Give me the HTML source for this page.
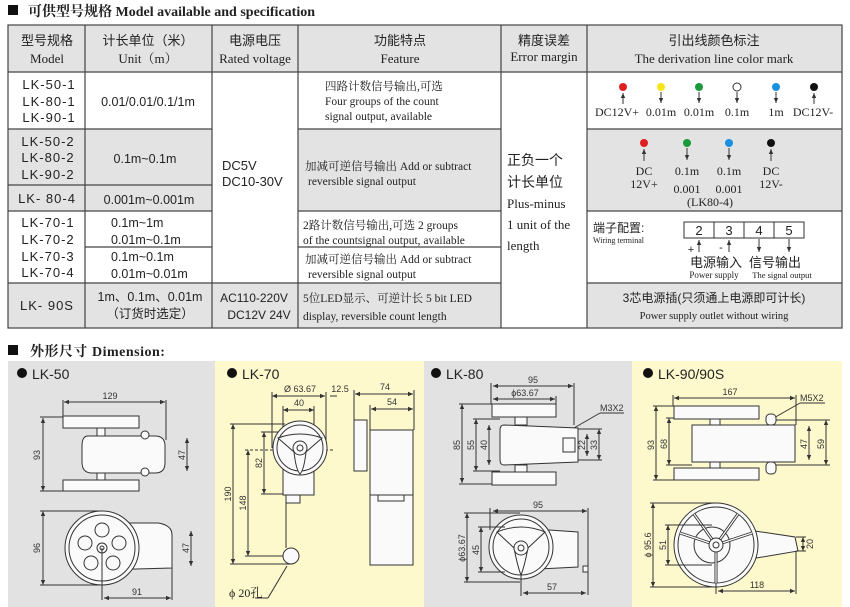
<!DOCTYPE html>
<html><head><meta charset="utf-8"><style>
html,body{margin:0;padding:0;background:#fff;width:850px;height:607px;overflow:hidden}
svg{display:block}
.s{font-family:"Liberation Serif","Noto Serif CJK SC","Noto Sans CJK SC",serif;fill:#222}
.a{font-family:"Liberation Sans","Noto Sans CJK SC",sans-serif;fill:#222}
.d{font-family:"Liberation Sans",sans-serif;fill:#333;font-size:9px}
.ln{stroke:#333;stroke-width:1;fill:none}
.sh{stroke:#333;stroke-width:1;fill:#fafafa}
</style></head><body>
<svg width="850" height="607" viewBox="0 0 850 607" xmlns="http://www.w3.org/2000/svg">
<defs>
<marker id="ar" markerWidth="6" markerHeight="6" refX="5" refY="3" orient="auto"><path d="M0,0.8 L5,3 L0,5.2z" fill="#333"/></marker>
<marker id="al" markerWidth="6" markerHeight="6" refX="1" refY="3" orient="auto"><path d="M6,0.8 L1,3 L6,5.2z" fill="#333"/></marker>
</defs>
<rect x="8" y="5" width="10" height="10" fill="#111"/>
<text x="28" y="16" class="s" font-size="14" font-weight="bold" fill="#111">可供型号规格 Model available  and  specification</text>

<rect x="8" y="25" width="834" height="47" fill="#e3e3e3"/>
<rect x="8" y="129" width="204" height="82" fill="#e3e3e3"/>
<rect x="298" y="129" width="203" height="82" fill="#e3e3e3"/>
<rect x="587" y="129" width="255" height="82" fill="#e3e3e3"/>
<rect x="8" y="283" width="493" height="45" fill="#e3e3e3"/>
<rect x="587" y="283" width="255" height="45" fill="#e3e3e3"/>
<g stroke="#444" stroke-width="1.2" fill="none">
<rect x="8" y="25" width="834" height="303"/>
<line x1="85" y1="25" x2="85" y2="328"/><line x1="212" y1="25" x2="212" y2="328"/>
<line x1="298" y1="25" x2="298" y2="328"/><line x1="501" y1="25" x2="501" y2="328"/>
<line x1="587" y1="25" x2="587" y2="328"/>
<line x1="8" y1="72" x2="842" y2="72"/>
<line x1="8" y1="129" x2="212" y2="129"/><line x1="298" y1="129" x2="501" y2="129"/><line x1="587" y1="129" x2="842" y2="129"/>
<line x1="8" y1="185" x2="212" y2="185"/>
<line x1="8" y1="211" x2="212" y2="211"/><line x1="298" y1="211" x2="501" y2="211"/><line x1="587" y1="211" x2="842" y2="211"/>
<line x1="85" y1="247" x2="212" y2="247"/><line x1="298" y1="247" x2="501" y2="247"/>
<line x1="8" y1="283" x2="501" y2="283"/><line x1="587" y1="283" x2="842" y2="283"/>
</g>
<g class="s" font-size="13" text-anchor="middle">
<text x="47" y="45" class="a">型号规格</text><text x="47" y="63">Model</text>
<text x="148" y="45" class="a">计长单位（米）</text><text x="148" y="63">Unit（m）</text>
<text x="255" y="45" class="a">电源电压</text><text x="255" y="63">Rated voltage</text>
<text x="400" y="45" class="a">功能特点</text><text x="400" y="63">Feature</text>
<text x="544" y="45" class="a">精度误差</text><text x="544" y="61">Error margin</text>
<text x="714" y="45" class="a">引出线颜色标注</text><text x="714" y="63">The derivation line color mark</text>
</g>
<g class="a" font-size="13" text-anchor="middle" letter-spacing="1">
<text x="49" y="89">LK-50-1</text><text x="49" y="106">LK-80-1</text><text x="49" y="122">LK-90-1</text>
<text x="48" y="146">LK-50-2</text><text x="48" y="162">LK-80-2</text><text x="48" y="179">LK-90-2</text>
<text x="47" y="203">LK- 80-4</text>
<text x="48" y="227">LK-70-1</text><text x="48" y="244">LK-70-2</text><text x="48" y="261">LK-70-3</text><text x="48" y="277">LK-70-4</text>
<text x="47" y="310">LK- 90S</text>
</g>
<g class="a" font-size="12.5">
<text x="148" y="106" text-anchor="middle">0.01/0.01/0.1/1m</text>
<text x="145" y="163" text-anchor="middle">0.1m~0.1m</text>
<text x="149" y="204" text-anchor="middle">0.001m~0.001m</text>
<text x="111" y="227">0.1m~1m</text><text x="111" y="244">0.01m~0.1m</text>
<text x="111" y="261">0.1m~0.1m</text><text x="111" y="278">0.01m~0.01m</text>
<text x="150" y="301" text-anchor="middle">1m、0.1m、0.01m</text>
<text x="150" y="318" text-anchor="middle">（订货时选定）</text>
<text x="222" y="170" font-size="13">DC5V</text><text x="222" y="186" font-size="13">DC10-30V</text>
<text x="254" y="302" text-anchor="middle" font-size="12">AC110-220V</text>
<text x="259" y="319" text-anchor="middle" font-size="12">DC12V  24V</text>
</g>
<g class="s" font-size="11.5">
<text x="325" y="90">四路计数信号输出,可选</text>
<text x="325" y="105">Four groups of the count</text>
<text x="325" y="120">signal output, available</text>
<text x="305" y="170">加减可逆信号输出 Add or subtract</text>
<text x="308" y="185">reversible signal output</text>
<text x="303" y="229">2路计数信号输出,可选 2 groups</text>
<text x="303" y="244">of the countsignal output, available</text>
<text x="305" y="263">加减可逆信号输出 Add or subtract</text>
<text x="308" y="278">reversible signal output</text>
<text x="303" y="302">5位LED显示、可逆计长 5 bit LED</text>
<text x="303" y="320">display,  reversible count length</text>
</g>
<g class="s" font-size="13">
<text x="507" y="165" class="a" font-size="14">正负一个</text>
<text x="507" y="187" class="a" font-size="14">计长单位</text>
<text x="507" y="208">Plus-minus</text>
<text x="507" y="229">1 unit of the</text>
<text x="507" y="250">length</text>
</g>
<g stroke="#333" stroke-width="1">
<line x1="623" y1="104" x2="623" y2="93" marker-end="url(#ar)"/>
<line x1="661" y1="92" x2="661" y2="103" marker-end="url(#ar)"/>
<line x1="699" y1="92" x2="699" y2="103" marker-end="url(#ar)"/>
<line x1="737" y1="92" x2="737" y2="103" marker-end="url(#ar)"/>
<line x1="776" y1="92" x2="776" y2="103" marker-end="url(#ar)"/>
<line x1="814" y1="104" x2="814" y2="93" marker-end="url(#ar)"/>
<line x1="644" y1="161" x2="644" y2="149" marker-end="url(#ar)"/>
<line x1="687" y1="148" x2="687" y2="160" marker-end="url(#ar)"/>
<line x1="729" y1="148" x2="729" y2="160" marker-end="url(#ar)"/>
<line x1="771" y1="161" x2="771" y2="149" marker-end="url(#ar)"/>
</g>
<circle cx="623" cy="87" r="4" fill="#e02020"/><circle cx="661" cy="87" r="4" fill="#f5e51a"/>
<circle cx="699" cy="87" r="4" fill="#1a9a3a"/><circle cx="737" cy="87" r="4" fill="#fff" stroke="#333"/>
<circle cx="776" cy="87" r="4" fill="#1a90e0"/><circle cx="814" cy="87" r="4" fill="#111"/>
<circle cx="644" cy="143" r="4" fill="#e02020"/><circle cx="687" cy="143" r="4" fill="#1a9a3a"/>
<circle cx="729" cy="143" r="4" fill="#1a90e0"/><circle cx="771" cy="143" r="4" fill="#111"/>
<g class="s" font-size="12" text-anchor="middle">
<text x="617" y="116">DC12V+</text><text x="661" y="116">0.01m</text><text x="699" y="116">0.01m</text>
<text x="737" y="116">0.1m</text><text x="776" y="116">1m</text><text x="813" y="116">DC12V-</text>
<text x="644" y="175">DC</text><text x="644" y="188">12V+</text>
<text x="687" y="175">0.1m</text><text x="687" y="193">0.001</text>
<text x="729" y="175">0.1m</text><text x="729" y="193">0.001</text>
<text x="771" y="175">DC</text><text x="771" y="188">12V-</text>
<text x="710" y="206">(LK80-4)</text>
</g>
<text x="593" y="232" class="a" font-size="12">端子配置:</text>
<text x="593" y="243" class="s" font-size="8">Wiring terminal</text>
<g stroke="#333" fill="none"><rect x="684" y="222" width="120" height="16"/>
<line x1="714" y1="222" x2="714" y2="238"/><line x1="744" y1="222" x2="744" y2="238"/><line x1="774" y1="222" x2="774" y2="238"/>
<line x1="699" y1="252" x2="699" y2="240" marker-end="url(#ar)"/>
<line x1="729" y1="252" x2="729" y2="240" marker-end="url(#ar)"/>
<line x1="759" y1="239" x2="759" y2="252" marker-end="url(#ar)"/>
<line x1="789" y1="239" x2="789" y2="252" marker-end="url(#ar)"/></g>
<g class="a" font-size="13" text-anchor="middle">
<text x="699" y="235">2</text><text x="729" y="235">3</text><text x="759" y="235">4</text><text x="789" y="235">5</text>
<text x="691" y="253" font-size="11">+</text><text x="721" y="251" font-size="11">-</text>
<text x="716" y="267">电源输入</text><text x="775" y="267">信号输出</text>
</g>
<text x="714" y="278" class="s" font-size="9" text-anchor="middle">Power supply</text>
<text x="782" y="278" class="s" font-size="8.5" text-anchor="middle">The signal output</text>
<text x="714" y="302" class="a" font-size="12" text-anchor="middle">3芯电源插(只须通上电源即可计长)</text>
<text x="714" y="319" class="s" font-size="10.5" text-anchor="middle">Power supply outlet  without wiring</text>

<rect x="8" y="345" width="10" height="10" fill="#111"/>
<text x="30" y="356" class="s" font-size="14" font-weight="bold" fill="#111" letter-spacing="0.5">外形尺寸 Dimension:</text>
<rect x="8" y="361" width="207" height="246" fill="#e2e2e2"/>
<rect x="215" y="361" width="209" height="246" fill="#fdf9cc"/>
<rect x="424" y="361" width="208" height="246" fill="#e2e2e2"/>
<rect x="632" y="361" width="210" height="246" fill="#fdf9cc"/>
<g class="a" font-size="14">
<circle cx="22" cy="373" r="5" fill="#111"/><text x="32" y="379">LK-50</text>
<circle cx="232" cy="373" r="5" fill="#111"/><text x="242" y="379">LK-70</text>
<circle cx="436" cy="373" r="5" fill="#111"/><text x="446" y="379">LK-80</text>
<circle cx="648" cy="373" r="5" fill="#111"/><text x="658" y="379">LK-90/90S</text>
</g>

<g class="ln">
<line x1="64" y1="402" x2="165" y2="402" marker-start="url(#al)" marker-end="url(#ar)"/>
<line x1="63" y1="400" x2="63" y2="416"/><line x1="166" y1="400" x2="166" y2="440"/>
<line x1="43" y1="418" x2="43" y2="491" marker-start="url(#al)" marker-end="url(#ar)"/>
<line x1="40" y1="417" x2="63" y2="417"/><line x1="40" y1="491" x2="63" y2="491"/>
<line x1="187" y1="438" x2="187" y2="471" marker-start="url(#al)" marker-end="url(#ar)"/>
</g>
<rect x="63" y="416" width="76" height="12" class="sh"/>
<rect x="63" y="480" width="76" height="11" class="sh"/>
<rect x="97" y="428" width="8" height="8" class="sh"/><rect x="97" y="472" width="8" height="8" class="sh"/>
<path d="M88,436 L155,436 Q165,436 165,446 L165,463 Q165,473 155,473 L92,473 Q82,473 82,462 L82,446 Q82,436 88,436z" class="sh"/>
<circle cx="145" cy="435" r="4" class="sh"/><circle cx="145" cy="472" r="4" class="sh"/>
<text class="d" x="110" y="399" text-anchor="middle">129</text>
<text class="d" transform="translate(40,455) rotate(-90)" text-anchor="middle">93</text>
<text class="d" transform="translate(185,455) rotate(-90)" text-anchor="middle">47</text>
<path d="M102,523 L158,523 Q172,525 172,535 L172,568 L102,570z" class="sh"/>
<circle cx="102" cy="548" r="37" class="sh"/><circle cx="102" cy="548" r="33" class="ln"/>
<g class="sh"><circle cx="102" cy="530" r="7"/><circle cx="119" cy="543" r="7"/><circle cx="113" cy="563" r="7"/><circle cx="91" cy="563" r="7"/><circle cx="85" cy="543" r="7"/></g>
<circle cx="102" cy="548" r="5" class="sh"/><circle cx="102" cy="548" r="2" class="ln"/>
<g class="ln">
<line x1="43" y1="511" x2="43" y2="585" marker-start="url(#al)" marker-end="url(#ar)"/>
<line x1="40" y1="511" x2="100" y2="511"/><line x1="40" y1="585" x2="100" y2="585"/>
<line x1="191" y1="531" x2="191" y2="566" marker-start="url(#al)" marker-end="url(#ar)"/>
<line x1="102" y1="548" x2="102" y2="600"/><line x1="172" y1="568" x2="172" y2="600"/>
<line x1="104" y1="598" x2="171" y2="598" marker-start="url(#al)" marker-end="url(#ar)"/>
</g>
<text class="d" transform="translate(40,548) rotate(-90)" text-anchor="middle">96</text>
<text class="d" transform="translate(189,548) rotate(-90)" text-anchor="middle">47</text>
<text class="d" x="137" y="595" text-anchor="middle">91</text>

<g class="ln">
<line x1="272" y1="396" x2="325" y2="396" marker-start="url(#al)" marker-end="url(#ar)"/>
<line x1="272" y1="392" x2="272" y2="448"/><line x1="326" y1="392" x2="326" y2="448"/>
<line x1="330" y1="396" x2="337" y2="396"/>
<line x1="283" y1="410" x2="314" y2="410" marker-start="url(#al)" marker-end="url(#ar)"/>
<line x1="283" y1="406" x2="283" y2="440"/><line x1="314" y1="406" x2="314" y2="440"/>
<line x1="355" y1="394" x2="413" y2="394" marker-start="url(#al)" marker-end="url(#ar)"/>
<line x1="371" y1="409" x2="413" y2="409" marker-start="url(#al)" marker-end="url(#ar)"/>
<line x1="354" y1="390" x2="354" y2="420"/><line x1="414" y1="390" x2="414" y2="430"/><line x1="370" y1="405" x2="370" y2="430"/>
<line x1="233" y1="424" x2="233" y2="564" marker-start="url(#al)" marker-end="url(#ar)"/>
<line x1="230" y1="424" x2="285" y2="424"/><line x1="230" y1="564" x2="292" y2="564"/>
<line x1="248" y1="450" x2="248" y2="556" marker-start="url(#al)" marker-end="url(#ar)"/>
<line x1="245" y1="450" x2="335" y2="450" stroke-dasharray="3,2"/><line x1="245" y1="556" x2="291" y2="556"/>
<line x1="264" y1="432" x2="264" y2="494" marker-start="url(#al)" marker-end="url(#ar)"/>
<line x1="261" y1="432" x2="280" y2="432"/><line x1="261" y1="494" x2="283" y2="494"/>
<line x1="286" y1="500" x2="286" y2="548"/>
<line x1="287" y1="566" x2="268" y2="598"/><line x1="268" y1="598" x2="255" y2="598"/>
</g>
<rect x="283" y="440" width="31" height="55" class="sh"/>
<rect x="286" y="495" width="14" height="8" class="sh"/>
<circle cx="300" cy="448" r="27" class="sh"/><circle cx="300" cy="448" r="23" class="ln"/>
<path d="M278,438 Q300,430 322,438 L306,452 Q304,470 300,474 Q296,470 294,452z" class="sh"/>
<circle cx="300" cy="448" r="7" class="sh"/><circle cx="300" cy="448" r="3" class="ln"/>
<circle cx="291" cy="556" r="8" class="sh"/>
<rect x="354" y="420" width="13" height="51" class="sh"/>
<rect x="370" y="430" width="43" height="135" class="sh"/>
<line x1="370" y1="495" x2="413" y2="495" class="ln"/>
<rect x="378" y="495" width="26" height="6" class="sh"/>
<text class="d" x="300" y="392" text-anchor="middle">Ø 63.67</text>
<text class="d" x="340" y="392" text-anchor="middle">12.5</text>
<text class="d" x="299" y="406" text-anchor="middle">40</text>
<text class="d" x="385" y="390" text-anchor="middle">74</text>
<text class="d" x="392" y="405" text-anchor="middle">54</text>
<text class="d" transform="translate(231,494) rotate(-90)" text-anchor="middle">190</text>
<text class="d" transform="translate(246,503) rotate(-90)" text-anchor="middle">148</text>
<text class="d" transform="translate(262,463) rotate(-90)" text-anchor="middle">82</text>
<text x="229" y="597" class="s" font-size="12">ϕ 20孔</text>

<g class="ln">
<line x1="493" y1="386" x2="573" y2="386" marker-start="url(#al)" marker-end="url(#ar)"/>
<line x1="493" y1="399" x2="555" y2="399" marker-start="url(#al)" marker-end="url(#ar)"/>
<line x1="491" y1="383" x2="491" y2="404"/><line x1="574" y1="383" x2="574" y2="425"/><line x1="556" y1="396" x2="556" y2="404"/>
<line x1="462" y1="404" x2="462" y2="483" marker-start="url(#al)" marker-end="url(#ar)"/>
<line x1="459" y1="404" x2="492" y2="404"/><line x1="459" y1="484" x2="492" y2="484"/>
<line x1="476" y1="419" x2="476" y2="471" marker-start="url(#al)" marker-end="url(#ar)"/>
<line x1="473" y1="419" x2="500" y2="419"/><line x1="473" y1="471" x2="500" y2="471"/>
<line x1="489" y1="425" x2="489" y2="465" marker-start="url(#al)" marker-end="url(#ar)"/>
<line x1="587" y1="434" x2="587" y2="456" marker-start="url(#al)" marker-end="url(#ar)"/>
<line x1="599" y1="429" x2="599" y2="460" marker-start="url(#al)" marker-end="url(#ar)"/>
<line x1="578" y1="429" x2="602" y2="429"/><line x1="578" y1="460" x2="602" y2="460"/>
<line x1="574" y1="428" x2="600" y2="413"/><line x1="600" y1="413" x2="624" y2="413"/>
</g>
<rect x="492" y="404" width="64" height="13" class="sh"/>
<rect x="492" y="472" width="64" height="13" class="sh"/>
<rect x="515" y="417" width="12" height="8" class="sh"/><rect x="515" y="465" width="12" height="7" class="sh"/>
<path d="M504,425 L578,428 L578,462 L504,465 Q500,465 500,460 L500,430 Q500,425 504,425z" class="sh"/>
<rect x="563" y="438" width="12" height="14" class="sh"/>
<text class="d" x="533" y="383" text-anchor="middle">95</text>
<text class="d" x="525" y="396" text-anchor="middle">ϕ63.67</text>
<text class="d" x="600" y="411">M3X2</text>
<text class="d" transform="translate(460,445) rotate(-90)" text-anchor="middle">85</text>
<text class="d" transform="translate(474,445) rotate(-90)" text-anchor="middle">55</text>
<text class="d" transform="translate(487,445) rotate(-90)" text-anchor="middle">40</text>
<text class="d" transform="translate(585,445) rotate(-90)" text-anchor="middle">22</text>
<text class="d" transform="translate(597,445) rotate(-90)" text-anchor="middle">33</text>
<path d="M520,528 L578,532 L578,567 L520,570z" class="sh"/>
<rect x="583" y="566" width="5" height="6" class="sh"/>
<circle cx="521" cy="547" r="32" class="sh"/><circle cx="521" cy="547" r="28" class="ln"/>
<path d="M497,532 Q521,522 545,532 L528,548 Q524,568 521,575 Q518,568 514,548z" class="sh"/>
<circle cx="521" cy="548" r="7" class="sh"/><circle cx="521" cy="548" r="3" class="ln"/>
<g class="ln">
<line x1="493" y1="511" x2="587" y2="511" marker-start="url(#al)" marker-end="url(#ar)"/>
<line x1="490" y1="508" x2="490" y2="530"/><line x1="588" y1="508" x2="588" y2="595"/>
<line x1="467" y1="513" x2="467" y2="582" marker-start="url(#al)" marker-end="url(#ar)"/>
<line x1="464" y1="513" x2="520" y2="513"/><line x1="464" y1="582" x2="520" y2="582"/>
<line x1="481" y1="527" x2="481" y2="572" marker-start="url(#al)" marker-end="url(#ar)"/>
<line x1="478" y1="527" x2="505" y2="527"/><line x1="478" y1="572" x2="505" y2="572"/>
<line x1="521" y1="575" x2="521" y2="596"/>
<line x1="523" y1="593" x2="586" y2="593" marker-start="url(#al)" marker-end="url(#ar)"/>
</g>
<text class="d" x="538" y="508" text-anchor="middle">95</text>
<text class="d" transform="translate(465,548) rotate(-90)" text-anchor="middle">ϕ63.67</text>
<text class="d" transform="translate(479,550) rotate(-90)" text-anchor="middle">45</text>
<text class="d" x="552" y="590" text-anchor="middle">57</text>

<g class="ln">
<line x1="674" y1="398" x2="795" y2="398" marker-start="url(#al)" marker-end="url(#ar)"/>
<line x1="673" y1="395" x2="673" y2="406"/><line x1="796" y1="395" x2="796" y2="425"/>
<line x1="656" y1="406" x2="656" y2="480" marker-start="url(#al)" marker-end="url(#ar)"/>
<line x1="653" y1="406" x2="674" y2="406"/><line x1="653" y1="480" x2="674" y2="480"/>
<line x1="669" y1="418" x2="669" y2="465" marker-start="url(#al)" marker-end="url(#ar)"/>
<line x1="666" y1="418" x2="692" y2="418"/><line x1="666" y1="465" x2="692" y2="465"/>
<line x1="809" y1="426" x2="809" y2="460" marker-start="url(#al)" marker-end="url(#ar)"/>
<line x1="826" y1="420" x2="826" y2="465" marker-start="url(#al)" marker-end="url(#ar)"/>
<line x1="775" y1="420" x2="830" y2="420"/><line x1="775" y1="465" x2="830" y2="465"/>
<line x1="772" y1="419" x2="800" y2="403"/><line x1="800" y1="403" x2="825" y2="403"/>
</g>
<rect x="674" y="406" width="85" height="13" class="sh"/>
<rect x="674" y="468" width="85" height="12" class="sh"/>
<rect x="710" y="419" width="10" height="6" class="sh"/><rect x="710" y="462" width="10" height="6" class="sh"/>
<rect x="692" y="425" width="103" height="37" class="sh"/>
<rect x="766" y="414" width="10" height="11" rx="4" class="sh"/><rect x="766" y="462" width="10" height="12" rx="4" class="sh"/>
<text class="d" x="730" y="395" text-anchor="middle">167</text>
<text class="d" x="800" y="401">M5X2</text>
<text class="d" transform="translate(654,445) rotate(-90)" text-anchor="middle">93</text>
<text class="d" transform="translate(667,444) rotate(-90)" text-anchor="middle">68</text>
<text class="d" transform="translate(807,444) rotate(-90)" text-anchor="middle">47</text>
<text class="d" transform="translate(824,444) rotate(-90)" text-anchor="middle">59</text>
<path d="M715,525 L795,537 L798,551 L715,565z" class="sh"/>
<circle cx="716" cy="545" r="42" class="sh"/><circle cx="716" cy="545" r="38" class="ln"/>
<circle cx="712" cy="545" r="18" class="ln"/>
<g stroke="#333" stroke-width="3" fill="none">
<line x1="716" y1="545" x2="716" y2="583"/><line x1="716" y1="545" x2="680" y2="533"/>
<line x1="716" y1="545" x2="738" y2="514"/><line x1="716" y1="545" x2="694" y2="514"/><line x1="716" y1="545" x2="752" y2="533"/>
</g>
<g stroke="#fafafa" stroke-width="1.2" fill="none">
<line x1="716" y1="545" x2="716" y2="583"/><line x1="716" y1="545" x2="680" y2="533"/>
<line x1="716" y1="545" x2="738" y2="514"/><line x1="716" y1="545" x2="694" y2="514"/><line x1="716" y1="545" x2="752" y2="533"/>
</g>
<circle cx="716" cy="545" r="7" class="sh"/><circle cx="716" cy="545" r="3" class="ln"/>
<g class="ln">
<line x1="653" y1="503" x2="653" y2="587" marker-start="url(#al)" marker-end="url(#ar)"/>
<line x1="650" y1="503" x2="716" y2="503"/><line x1="650" y1="587" x2="716" y2="587"/>
<line x1="668" y1="525" x2="668" y2="565" marker-start="url(#al)" marker-end="url(#ar)"/>
<line x1="665" y1="525" x2="712" y2="525"/><line x1="665" y1="565" x2="712" y2="565"/>
<line x1="803" y1="537" x2="803" y2="551" marker-start="url(#al)" marker-end="url(#ar)"/>
<line x1="796" y1="537" x2="806" y2="537"/><line x1="796" y1="551" x2="806" y2="551"/>
<line x1="796" y1="551" x2="796" y2="594"/><line x1="716" y1="583" x2="716" y2="594"/>
<line x1="718" y1="591" x2="795" y2="591" marker-start="url(#al)" marker-end="url(#ar)"/>
</g>
<text class="d" transform="translate(651,545) rotate(-90)" text-anchor="middle">ϕ 95.6</text>
<text class="d" transform="translate(666,545) rotate(-90)" text-anchor="middle">51</text>
<text class="d" transform="translate(813,544) rotate(-90)" text-anchor="middle">20</text>
<text class="d" x="757" y="588" text-anchor="middle">118</text>
</svg>
</body></html>
